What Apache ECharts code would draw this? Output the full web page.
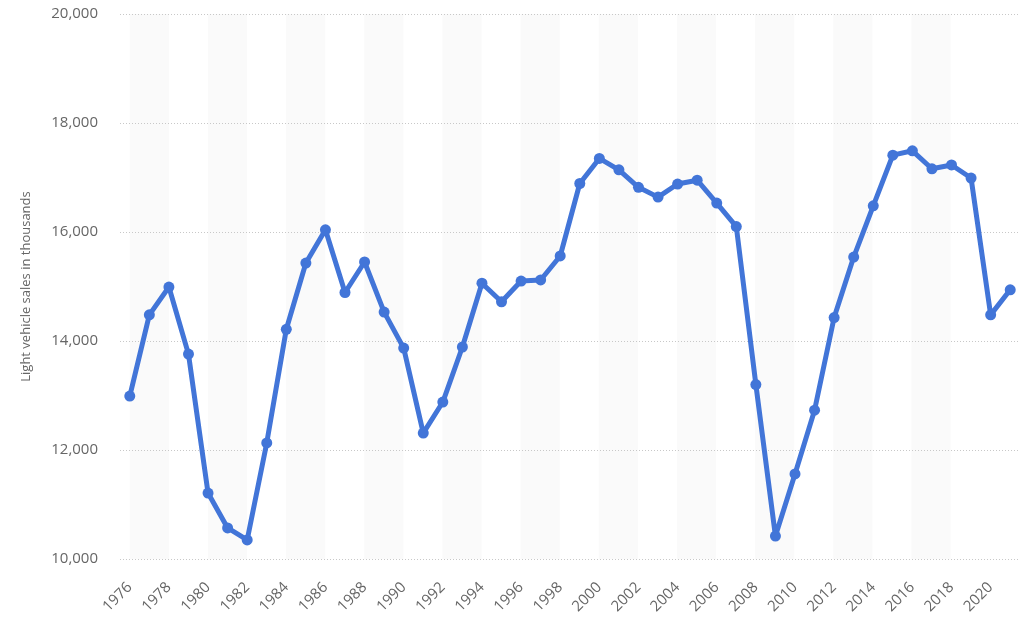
<!DOCTYPE html>
<html lang="en">
<head>
    <meta charset="UTF-8">
    <title>Light vehicle sales</title>
    <style>
        html, body {
            margin: 0;
            padding: 0;
            background: #fff;
        }
        #chart {
            width: 1024px;
            height: 630px;
        }
    </style>
    <script src="https://cdn.jsdelivr.net/npm/echarts@6/dist/echarts.min.js"></script>
</head>
<body>
    <div id="chart"></div>
    <script>
        // years on the x axis
        var years = [];
        for (var y = 1976; y <= 2021; y++) {
            years.push(String(y));
        }

        // light vehicle sales, thousands of units
        var sales = [
            12990, 14480, 14990, 13760, 11210, 10570, 10350, 12130, 14215, 15430,
            16040, 14890, 15450, 14530, 13870, 12310, 12880, 13890, 15060, 14720,
            15100, 15120, 15560, 16890, 17350, 17140, 16820, 16640, 16880, 16950,
            16530, 16100, 13200, 10420, 11560, 12730, 14430, 15540, 16480, 17410,
            17490, 17160, 17230, 16990, 14480, 14940
        ];

        var yTicks = { min: 10000, max: 20000, step: 2000 };

        var labelStyle = {
            color: '#666',
            fontSize: 15,
            fontFamily: 'Open Sans'
        };

        var chart = echarts.init(document.getElementById('chart'));

        var option = {
            animation: false,
            grid: [
                // main grid: line, y labels, grid lines
                { left: 120, right: 4, top: 14, bottom: 71 },
                // inner grid: alternating bands from point to point
                { left: 129.8, right: 14.8, top: 14, bottom: 71 }
            ],
            xAxis: [
                {
                    type: 'category',
                    gridIndex: 0,
                    data: years,
                    boundaryGap: true,
                    axisLine: { show: false },
                    axisTick: { show: false },
                    splitLine: { show: false },
                    axisLabel: Object.assign({}, labelStyle, {
                        interval: 1,
                        rotate: 45,
                        margin: 26
                    })
                },
                {
                    type: 'category',
                    gridIndex: 1,
                    data: years,
                    boundaryGap: false,
                    axisLine: { show: false },
                    axisTick: { show: false },
                    axisLabel: { show: false },
                    splitLine: { show: false },
                    splitArea: {
                        show: true,
                        interval: 1,
                        areaStyle: { color: ['#fafafa', 'rgba(255,255,255,0)'] }
                    }
                }
            ],
            yAxis: [
                {
                    type: 'value',
                    gridIndex: 0,
                    min: yTicks.min,
                    max: yTicks.max,
                    interval: yTicks.step,
                    name: 'Light vehicle sales in thousands',
                    nameLocation: 'middle',
                    nameGap: 87,
                    nameTextStyle: {
                        color: '#666',
                        fontSize: 13,
                        fontFamily: 'Open Sans'
                    },
                    axisLine: { show: false },
                    axisTick: { show: false },
                    axisLabel: Object.assign({}, labelStyle, {
                        margin: 22,
                        formatter: function (v) {
                            return v.toLocaleString('en-US');
                        }
                    }),
                    splitLine: {
                        show: true,
                        lineStyle: { color: '#c8c8c8', type: [1, 2], width: 1 }
                    },
                    z: 3
                },
                {
                    type: 'value',
                    gridIndex: 1,
                    min: yTicks.min,
                    max: yTicks.max,
                    interval: yTicks.step,
                    axisLine: { show: false },
                    axisTick: { show: false },
                    axisLabel: { show: false },
                    splitLine: { show: false }
                }
            ],
            series: [
                {
                    name: 'Light vehicle sales',
                    type: 'line',
                    xAxisIndex: 0,
                    yAxisIndex: 0,
                    data: sales,
                    symbol: 'circle',
                    symbolSize: 11,
                    showAllSymbol: true,
                    lineStyle: { color: '#4275d8', width: 5 },
                    itemStyle: { color: '#4275d8' },
                    z: 5
                }
            ]
        };

        chart.setOption(option);
    </script>
</body>
</html>
